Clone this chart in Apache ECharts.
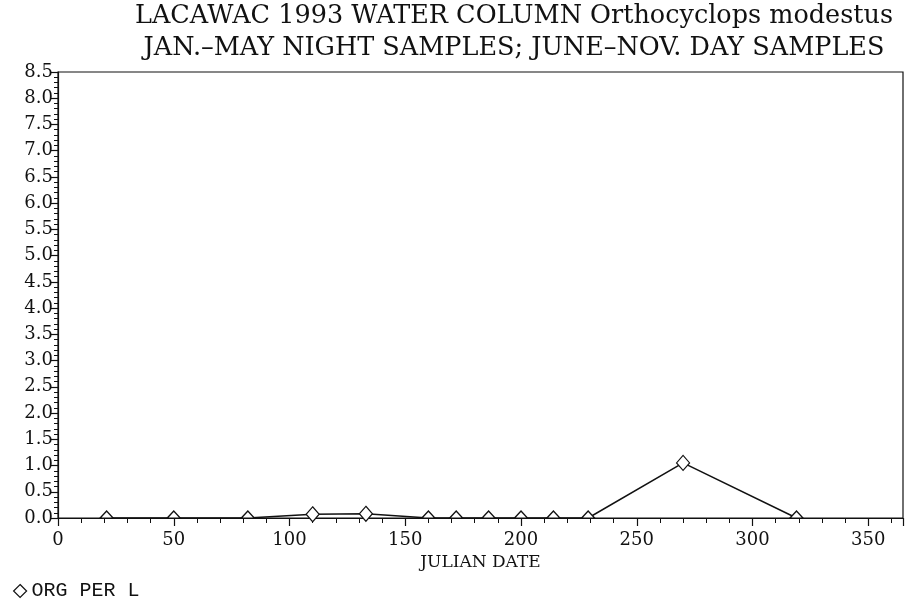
<!DOCTYPE html>
<html>
<head>
<meta charset="utf-8">
<script src="https://cdn.jsdelivr.net/npm/echarts@6/dist/echarts.min.js"></script>
<style>
  html, body { margin: 0; padding: 0; background: #fff; }
  #chart { width: 907px; height: 605px; }
</style>
</head>
<body>
<div id="chart"></div>
<script>
// Julian day of each sample and organisms per litre
const julianDays = [21, 50, 82, 110, 133, 160, 172, 186, 200, 214, 229, 270, 319];
const orgPerL    = [0, 0, 0, 0.07, 0.08, 0, 0, 0, 0, 0, 0, 1.05, 0];

const titleLines = [
  'LACAWAC 1993 WATER COLUMN Orthocyclops modestus',
  'JAN.\u2013MAY NIGHT SAMPLES; JUNE\u2013NOV. DAY SAMPLES'
];
const xTitle = 'JULIAN DATE';
const seriesName = 'ORG PER L';

const serif = '"DejaVu Serif", serif';
const mono = '"Liberation Mono", "DejaVu Sans Mono", monospace';

const chart = echarts.init(document.getElementById('chart'), null, { renderer: 'canvas' });

// Zero-valued samples sit on the axis, so only the upper half of the diamond shows
const halfDiamond = 'path://M0,1 L1,0 L2,1 Z';

chart.setOption({
  animation: false,
  backgroundColor: '#fff',
  title: {
    text: titleLines.join('\n'),
    left: 514,
    top: 0,
    padding: 0,
    textAlign: 'center',
    textStyle: {
      fontFamily: serif,
      fontSize: 25.5,
      fontWeight: 'normal',
      color: '#111',
      lineHeight: 32
    }
  },
  legend: {
    left: 8,
    top: 576,
    itemWidth: 13,
    itemHeight: 13,
    itemGap: 10,
    data: [{
      name: seriesName,
      icon: 'diamond',
      itemStyle: { color: '#fff', borderColor: '#111', borderWidth: 1.2 }
    }],
    textStyle: { fontFamily: mono, fontSize: 20, color: '#111' }
  },
  grid: {
    left: 58,
    right: 4,
    top: 72,
    bottom: 87,
    show: true,
    borderColor: '#111',
    borderWidth: 1.2,
    backgroundColor: 'transparent'
  },
  xAxis: {
    type: 'value',
    min: 0,
    max: 365,
    interval: 50,
    name: xTitle,
    nameLocation: 'middle',
    nameGap: 26,
    nameTextStyle: { fontFamily: serif, fontSize: 17, color: '#111' },
    axisLine: { show: true, lineStyle: { color: '#111', width: 1.2 } },
    axisTick: { show: true, inside: false, length: 8, lineStyle: { color: '#111', width: 1.2 } },
    minorTick: { show: true, splitNumber: 5, length: 5, lineStyle: { color: '#111', width: 1 } },
    axisLabel: {
      fontFamily: serif, fontSize: 18, color: '#111', margin: 13,
      showMaxLabel: false
    },
    splitLine: { show: false }
  },
  yAxis: {
    type: 'value',
    min: 0,
    max: 8.5,
    interval: 0.5,
    axisLine: { show: true, lineStyle: { color: '#111', width: 1.2 } },
    axisTick: { show: true, inside: false, length: 7, lineStyle: { color: '#111', width: 1.2 } },
    minorTick: { show: true, splitNumber: 5, length: 4, lineStyle: { color: '#111', width: 1 } },
    axisLabel: {
      fontFamily: serif, fontSize: 18, color: '#111', margin: 5,
      formatter: v => v.toFixed(1)
    },
    splitLine: { show: false }
  },
  series: [{
    name: seriesName,
    type: 'line',
    data: julianDays.map((d, i) => [d, orgPerL[i]]),
    clip: false,
    symbol: v => v[1] === 0 ? halfDiamond : 'diamond',
    symbolSize: v => v[1] === 0 ? [13, 7] : [13, 15],
    symbolOffset: v => v[1] === 0 ? [0, -3.5] : [0, 0],
    showAllSymbol: true,
    lineStyle: { color: '#111', width: 1.5 },
    itemStyle: { color: '#fff', borderColor: '#111', borderWidth: 1.2 },
    z: 3
  }]
});
</script>
</body>
</html>
